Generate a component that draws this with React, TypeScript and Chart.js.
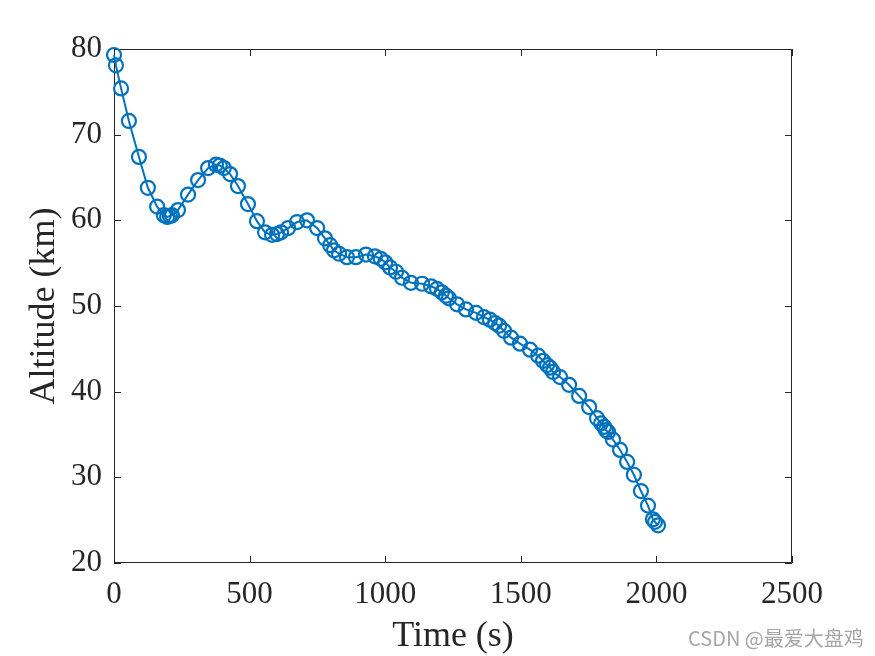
import React, { useEffect, useRef } from "react";
import { Chart, registerables } from "chart.js";

Chart.register(...registerables);

const times = [
  0, 7, 26, 55, 92, 125, 159, 184, 196, 206, 214, 236, 273, 310, 347, 376, 390, 405, 428, 457,
  494, 527, 557, 583, 601, 616, 642, 675, 712, 749, 778, 797, 811, 830, 859, 892, 929, 962, 984,
  1000, 1018, 1040, 1062, 1095, 1136, 1169, 1191, 1209, 1224, 1235, 1265, 1298, 1335, 1364, 1386,
  1405, 1420, 1438, 1464, 1497, 1534, 1564, 1582, 1597, 1608, 1619, 1645, 1678, 1715, 1752, 1781,
  1796, 1807, 1814, 1822, 1840, 1866, 1892, 1917, 1943, 1969, 1987, 1995, 2006,
];
const altitudes = [
  79.3, 78.1, 75.4, 71.6, 67.4, 63.8, 61.6, 60.6, 60.4, 60.5, 60.6, 61.2, 63.0, 64.7, 66.1, 66.5,
  66.4, 66.1, 65.4, 64.0, 61.9, 59.9, 58.6, 58.3, 58.4, 58.6, 59.1, 59.8, 60.0, 59.1, 57.9, 57.1,
  56.5, 56.1, 55.7, 55.7, 56.0, 55.8, 55.5, 55.1, 54.5, 54.0, 53.3, 52.7, 52.6, 52.3, 52.0, 51.6,
  51.2, 50.9, 50.2, 49.6, 49.2, 48.7, 48.4, 48.0, 47.7, 47.1, 46.3, 45.6, 44.9, 44.2, 43.6, 43.1,
  42.8, 42.3, 41.7, 40.8, 39.5, 38.2, 36.9, 36.3, 35.9, 35.5, 35.3, 34.4, 33.2, 31.8, 30.3, 28.4,
  26.7, 25.1, 24.8, 24.4,
];
const xTicks = [0, 500, 1000, 1500, 2000, 2500];
const yTicks = [20, 30, 40, 50, 60, 70, 80];

const AXIS_COLOR = "#262626";
const LINE_COLOR = "#0072BD";
const FONT = "'Liberation Serif', 'Times New Roman', serif";

const boxPlugin = {
  id: "matlabBox",
  beforeDatasetsDraw(chart: any) {
    const { ctx, chartArea } = chart;
    const { left, right, top, bottom } = chartArea;
    const xs = chart.scales.x;
    const ys = chart.scales.y;
    const tl = 7;
    ctx.save();
    ctx.strokeStyle = AXIS_COLOR;
    ctx.lineWidth = 1;
    ctx.beginPath();
    ctx.rect(left + 0.5, top + 0.5, right - left - 1, bottom - top - 1);
    for (const v of xTicks) {
      const px = Math.round(xs.getPixelForValue(v)) + 0.5;
      ctx.moveTo(px, bottom);
      ctx.lineTo(px, bottom - tl);
      ctx.moveTo(px, top);
      ctx.lineTo(px, top + tl);
    }
    for (const v of yTicks) {
      const py = Math.round(ys.getPixelForValue(v)) + 0.5;
      ctx.moveTo(left, py);
      ctx.lineTo(left + tl, py);
      ctx.moveTo(right, py);
      ctx.lineTo(right - tl, py);
    }
    ctx.stroke();
    ctx.restore();
  },
};

export default function App() {
  const ref = useRef<HTMLCanvasElement | null>(null);

  useEffect(() => {
    if (!ref.current) return;
    const chart = new Chart(ref.current, {
      type: "scatter",
      data: {
        datasets: [
          {
            data: times.map((t, i) => ({ x: t, y: altitudes[i] })),
            showLine: true,
            clip: false,
            borderColor: LINE_COLOR,
            borderWidth: 2,
            pointStyle: "circle",
            pointRadius: 7,
            pointBorderWidth: 2.2,
            pointBorderColor: LINE_COLOR,
            pointBackgroundColor: "rgba(0,0,0,0)",
            tension: 0,
          },
        ],
      },
      options: {
        animation: false,
        responsive: false,
        maintainAspectRatio: false,
        layout: { padding: { left: 0, right: 83, top: 49, bottom: 0 } },
        plugins: { legend: { display: false }, tooltip: { enabled: false } },
        scales: {
          x: {
            type: "linear",
            min: 0,
            max: 2500,
            afterBuildTicks: (s: any) => {
              s.ticks = xTicks.map((v) => ({ value: v }));
            },
            afterFit: (s: any) => {
              s.height = 93;
            },
            grid: { display: false, drawTicks: false },
            border: { display: false },
            ticks: {
              color: AXIS_COLOR,
              font: { family: FONT, size: 31 },
              padding: 13,
              maxRotation: 0,
              autoSkip: false,
              callback: (v: any) => String(v),
            },
            title: {
              display: true,
              text: "Time (s)",
              color: AXIS_COLOR,
              font: { family: FONT, size: 36 },
              padding: { top: 0, bottom: -2 },
            },
          },
          y: {
            type: "linear",
            min: 20,
            max: 80,
            afterBuildTicks: (s: any) => {
              s.ticks = yTicks.map((v) => ({ value: v }));
            },
            afterFit: (s: any) => {
              s.width = 114;
            },
            grid: { display: false, drawTicks: false },
            border: { display: false },
            ticks: {
              color: AXIS_COLOR,
              font: { family: FONT, size: 31 },
              padding: 12,
              autoSkip: false,
              callback: (v: any) => String(v),
            },
            title: {
              display: true,
              text: "Altitude (km)",
              color: AXIS_COLOR,
              font: { family: FONT, size: 36 },
              padding: { top: 23, bottom: 0 },
            },
          },
        },
      },
      plugins: [boxPlugin],
    } as any);
    return () => chart.destroy();
  }, []);

  return (
    <div style={{ position: "absolute", left: 0, top: 0, width: 875, height: 656, background: "#fff" }}>
      <canvas ref={ref} width={875} height={656} style={{ display: "block", width: 875, height: 656 }} />
      <div
        style={{
          position: "absolute",
          left: 688,
          top: 625,
          fontFamily: "'Noto Sans CJK SC', 'Noto Sans', sans-serif",
          fontSize: 20,
          color: "#a6a6a6",
          whiteSpace: "nowrap",
          lineHeight: "26px",
        }}
      >
        CSDN @最爱大盘鸡
      </div>
    </div>
  );
}
